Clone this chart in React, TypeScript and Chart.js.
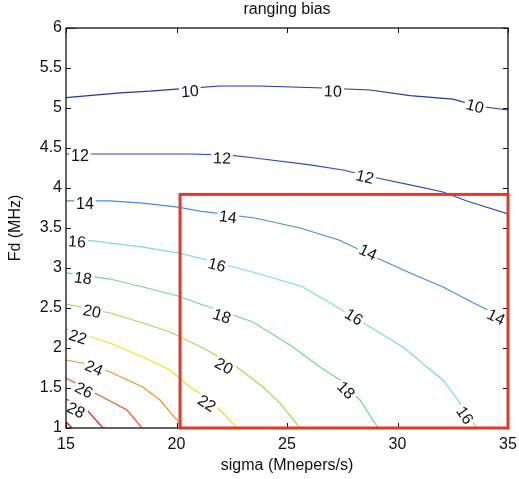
import React, { useEffect, useRef } from "react";
import { Chart, registerables } from "chart.js";

Chart.register(...registerables);

// ---- data ----
const titleText = "ranging bias";
const xTitle = "sigma (Mnepers/s)";
const yTitle = "Fd (MHz)";
const xTicks = [15, 20, 25, 30, 35];
const yTicks = [1, 1.5, 2, 2.5, 3, 3.5, 4, 4.5, 5, 5.5, 6];

const levels = [8, 10, 12, 14, 16, 18, 20, 22, 24, 26, 28, 30];
const levelColors = [
  "#161a88", "#2a359e", "#2e4db0", "#4a8ed6", "#7cdbdc", "#6fd79a",
  "#a8d94e", "#ece21e", "#f39424", "#ec5a28", "#d92a22", "#ad1616",
];

const contour8 = [[15, 5.998], [15.5, 5.998]];
const contour10 = [[15, 5.129], [17.44, 5.19], [18.8, 5.21], [20.16, 5.24], [21.97, 5.275], [23.78, 5.275], [26.63, 5.25], [28.76, 5.225], [30.57, 5.154], [32.51, 5.11], [33.6, 5.025], [35, 4.975]];
const contour12 = [[15, 4.425], [20.61, 4.425], [22.42, 4.412], [23.55, 4.375], [26.04, 4.288], [27.53, 4.225], [29.07, 4.125], [30.57, 4.038], [32.06, 3.95], [33.14, 3.838], [35, 3.675]];
const contour14 = [[15, 3.838], [16.99, 3.838], [18.48, 3.812], [20.07, 3.762], [21.06, 3.712], [23.55, 3.625], [25.59, 3.5], [27.35, 3.35], [29.07, 3.125], [30.57, 2.938], [32.06, 2.762], [33.44, 2.562], [35, 2.35]];
const contour16 = [[15, 3.362], [16.22, 3.338], [18.48, 3.262], [20.07, 3.188], [21.38, 3.1], [23.78, 2.925], [25.72, 2.762], [27.26, 2.512], [28.76, 2.262], [30.25, 2.012], [31.33, 1.762], [32.06, 1.6], [32.83, 1.312], [33.6, 1.0]];
const contour18 = [[15, 2.938], [16.99, 2.862], [18.48, 2.762], [20.07, 2.65], [21.2, 2.538], [23.46, 2.325], [25.27, 2.012], [26.49, 1.762], [27.4, 1.6], [28.3, 1.35], [29.12, 1.0]];
const contour20 = [[15, 2.55], [16.99, 2.438], [18.48, 2.312], [19.71, 2.2], [21.2, 2.0], [22.74, 1.762], [23.91, 1.512], [24.68, 1.312], [25.59, 1.0]];
const contour22 = [[15, 2.238], [16.99, 2.062], [18.48, 1.888], [19.71, 1.725], [20.61, 1.512], [21.52, 1.35], [22.74, 1.0]];
const contour24 = [[15, 1.85], [16.22, 1.788], [16.99, 1.7], [18.48, 1.512], [19.25, 1.35], [20.02, 1.1], [20.29, 1.0]];
const contour26 = [[15, 1.625], [16.22, 1.45], [17.76, 1.225], [18.44, 1.0]];
const contour28 = [[15, 1.362], [15.95, 1.225], [16.67, 1.0]];
const contour30 = [[15, 1.075], [15.27, 1.0]];

const contours = [contour8, contour10, contour12, contour14, contour16, contour18, contour20, contour22, contour24, contour26, contour28, contour30];

const labelLevel = [10, 10, 10, 12, 12, 12, 14, 14, 14, 14, 16, 16, 16, 16, 18, 18, 18, 20, 20, 22, 22, 24, 26, 28];
const labelX = [20.61, 27.08, 33.51, 15.63, 22.06, 28.53, 15.86, 22.33, 28.67, 34.46, 15.5, 21.83, 28.03, 33.05, 15.77, 22.06, 27.67, 16.18, 22.15, 15.54, 21.38, 16.27, 15.81, 15.45];
const labelY = [5.21, 5.21, 5.025, 4.4, 4.375, 4.14, 3.8, 3.64, 3.2, 2.39, 3.33, 3.04, 2.39, 1.16, 2.875, 2.4, 1.475, 2.46, 1.775, 2.14, 1.31, 1.75, 1.475, 1.225];

const boxX = [20.16, 35];
const boxY = [1, 3.92];

const FONT = '"Liberation Sans", Arial, Helvetica, sans-serif';

const overlayPlugin = {
  id: "overlay",
  afterDatasetsDraw(chart: any) {
    const { ctx, chartArea: a, scales } = chart;
    const xs = scales.x;
    const ys = scales.y;
    ctx.save();

    // contour labels
    ctx.font = `16px ${FONT}`;
    for (let i = 0; i < labelLevel.length; i++) {
      const pts = contours[levels.indexOf(labelLevel[i])];
      const px = xs.getPixelForValue(labelX[i]);
      const py = ys.getPixelForValue(labelY[i]);
      let best = Infinity;
      let ang = 0;
      for (let j = 0; j < pts.length - 1; j++) {
        const ax = xs.getPixelForValue(pts[j][0]);
        const ay = ys.getPixelForValue(pts[j][1]);
        const bx = xs.getPixelForValue(pts[j + 1][0]);
        const by = ys.getPixelForValue(pts[j + 1][1]);
        const dx = bx - ax, dy = by - ay;
        const L = dx * dx + dy * dy || 1;
        let t = ((px - ax) * dx + (py - ay) * dy) / L;
        t = Math.max(0, Math.min(1, t));
        const qx = ax + t * dx - px, qy = ay + t * dy - py;
        const d = qx * qx + qy * qy;
        if (d < best) {
          best = d;
          ang = Math.atan2(dy, dx);
        }
      }
      if (ang > Math.PI / 2) ang -= Math.PI;
      if (ang < -Math.PI / 2) ang += Math.PI;
      const text = String(labelLevel[i]);
      ctx.save();
      ctx.translate(px, py);
      ctx.rotate(ang);
      const w = ctx.measureText(text).width;
      ctx.fillStyle = "#ffffff";
      ctx.fillRect(-w / 2 - 2, -6, w + 4, 12);
      ctx.fillStyle = "#111111";
      ctx.textAlign = "center";
      ctx.textBaseline = "middle";
      ctx.fillText(text, 0, 1);
      ctx.restore();
    }

    // axes frame
    const L = Math.round(a.left), R = Math.round(a.right), T = Math.round(a.top), B = Math.round(a.bottom);
    ctx.strokeStyle = "#111111";
    ctx.lineWidth = 1.3;
    ctx.strokeRect(L, T, R - L, B - T);
    // inward ticks
    ctx.lineWidth = 1;
    ctx.beginPath();
    for (const v of xTicks) {
      const p = Math.round(xs.getPixelForValue(v)) + 0.5;
      ctx.moveTo(p, B); ctx.lineTo(p, B - 5);
      ctx.moveTo(p, T); ctx.lineTo(p, T + 5);
    }
    for (const v of yTicks) {
      const p = Math.round(ys.getPixelForValue(v)) + 0.5;
      ctx.moveTo(L, p); ctx.lineTo(L + 5, p);
      ctx.moveTo(R, p); ctx.lineTo(R - 5, p);
    }
    ctx.stroke();

    // red highlight box
    const bx0 = xs.getPixelForValue(boxX[0]);
    const bx1 = xs.getPixelForValue(boxX[1]);
    const by0 = ys.getPixelForValue(boxY[0]);
    const by1 = ys.getPixelForValue(boxY[1]);
    ctx.strokeStyle = "#e3372b";
    ctx.lineWidth = 3;
    ctx.strokeRect(bx0, by1, bx1 - bx0, by0 - by1);

    // title
    ctx.fillStyle = "#111111";
    ctx.font = `16px ${FONT}`;
    ctx.textAlign = "center";
    ctx.textBaseline = "middle";
    ctx.fillText(titleText, (a.left + a.right) / 2, 10);
    ctx.restore();
  },
};

export default function App() {
  const ref = useRef<HTMLCanvasElement | null>(null);
  useEffect(() => {
    if (!ref.current) return;
    const chart = new Chart(ref.current, {
      type: "scatter",
      data: {
        datasets: contours.map((c, i) => ({
          label: String(levels[i]),
          data: c.map((p) => ({ x: p[0], y: p[1] })),
          showLine: true,
          borderColor: levelColors[i],
          backgroundColor: levelColors[i],
          borderWidth: 1.2,
          pointRadius: 0,
          tension: 0,
          fill: false,
        })),
      },
      options: {
        animation: false,
        responsive: false,
        devicePixelRatio: 1,
        layout: { padding: { top: 28, right: 11, left: 0, bottom: 0 } },
        plugins: { legend: { display: false }, tooltip: { enabled: false }, title: { display: false } },
        scales: {
          x: {
            type: "linear",
            min: 15,
            max: 35,
            afterFit: (s: any) => { s.height = 51; s.paddingLeft = 0; s.paddingRight = 0; },
            afterBuildTicks: (s: any) => { s.ticks = xTicks.map((v) => ({ value: v })); },
            grid: { display: false, drawTicks: false },
            border: { display: false },
            ticks: { color: "#111111", font: { family: FONT, size: 16 }, padding: 7, callback: (v: any) => String(v) },
            title: { display: true, text: xTitle, color: "#111111", font: { family: FONT, size: 16 }, padding: { top: 0, bottom: 4 } },
          },
          y: {
            type: "linear",
            min: 1,
            max: 6,
            afterFit: (s: any) => { s.width = 66; s.paddingTop = 0; s.paddingBottom = 0; },
            afterBuildTicks: (s: any) => { s.ticks = yTicks.map((v) => ({ value: v })); },
            grid: { display: false, drawTicks: false },
            border: { display: false },
            ticks: { color: "#111111", font: { family: FONT, size: 16 }, padding: 4, callback: (v: any) => String(v) },
            title: { display: true, text: yTitle, color: "#111111", font: { family: FONT, size: 16 }, padding: { top: 6, bottom: 0 } },
          },
        },
      },
      plugins: [overlayPlugin],
    });
    return () => chart.destroy();
  }, []);
  return (
    <div style={{ position: "absolute", left: 0, top: 0, width: 519, height: 479, background: "#fff" }}>
      <canvas ref={ref} width={519} height={479} style={{ display: "block" }} />
    </div>
  );
}
